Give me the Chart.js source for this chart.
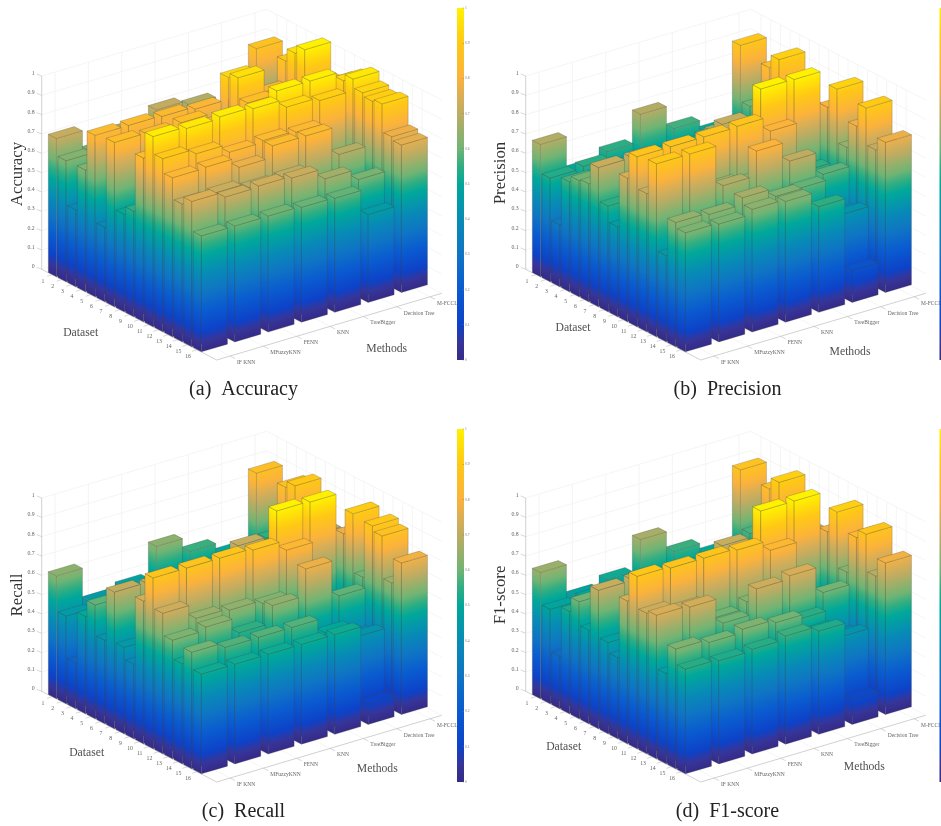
<!DOCTYPE html>
<html><head><meta charset="utf-8">
<script src="https://cdn.jsdelivr.net/npm/chart.js@4"></script>
<style>
html,body{margin:0;padding:0;background:#fff;width:941px;height:826px;overflow:hidden}
canvas{position:absolute;filter:blur(0.5px)}
</style></head><body>
<canvas id="pa" style="left:0;top:0"></canvas>
<canvas id="pb" style="left:484px;top:0"></canvas>
<canvas id="pc" style="left:0;top:422px"></canvas>
<canvas id="pd" style="left:484px;top:422px"></canvas>
<script>
const methods=['IF KNN','MFuzzyKNN','FENN','KNN','TreeBigger','Decision Tree','M-FCCL'];
const datasetIds=[1,2,3,4,5,6,7,8,9,10,11,12,13,14,15,16];
const zTicks=[0,0.1,0.2,0.3,0.4,0.5,0.6,0.7,0.8,0.9,1];

// rows: dataset 1..16, columns: methods
const accuracy=[
[.715,.60,.66,.71,.684,.62,.873],
[.626,.60,.60,.60,.60,.60,.65],
[.397,.55,.55,.60,.60,.60,.70],
[.629,.70,.65,.65,.70,.70,.887],
[.835,.835,.83,.817,.93,.80,.953],
[.385,.60,.70,.70,.954,.80,.997],
[.85,.84,.85,.80,.85,.85,.85],
[.504,.75,.80,.80,.80,.80,.85],
[.546,.75,.80,.80,.85,.85,.90],
[.847,.90,.90,.90,.99,.99,.94],
[.984,.975,.984,.975,.932,.915,.975],
[.896,.87,.827,.836,.828,.55,.93],
[.823,.827,.775,.835,.835,.688,.912],
[.713,.72,.696,.70,.60,.55,.924],
[.752,.724,.73,.72,.665,.61,.78],
[.60,.60,.60,.594,.59,.455,.763]];
const precision=[
[.684,.50,.546,.687,.563,.50,.89],
[.536,.545,.50,.50,.50,.50,.60],
[.32,.45,.45,.50,.50,.45,.55],
[.568,.55,.55,.55,.60,.55,.852],
[.60,.60,.60,.60,.65,.60,.92],
[.61,.55,.60,.60,.713,.60,.80],
[.72,.72,.65,.65,.65,.65,.70],
[.547,.65,.65,.65,.65,.70,.70],
[.465,.60,.60,.65,.60,.65,.70],
[.743,.75,.75,.75,1.0,.998,.803],
[.88,.88,.88,.884,.808,.55,.923],
[.715,.72,.65,.63,.51,.45,.647],
[.895,.895,.68,.808,.705,.585,.783],
[.446,.50,.55,.55,.59,.40,.903],
[.643,.634,.669,.625,.50,.43,.712],
[.616,.61,.635,.625,.547,.165,.777]];
const recall=[
[.635,.454,.48,.635,.558,.50,.86],
[.453,.45,.45,.45,.50,.45,.55],
[.236,.40,.40,.45,.45,.40,.55],
[.503,.50,.50,.50,.55,.50,.865],
[.588,.55,.55,.55,.60,.60,.898],
[.432,.50,.55,.55,.716,.60,.75],
[.707,.698,.60,.60,.60,.60,.70],
[.447,.60,.60,.55,.55,.60,.70],
[.386,.55,.55,.55,.55,.60,.70],
[.738,.70,.70,.70,1.0,.995,.78],
[.884,.884,.884,.875,.823,.48,.909],
[.727,.65,.641,.624,.50,.45,.607],
[.614,.631,.55,.64,.778,.588,.898],
[.518,.52,.50,.50,.45,.40,.872],
[.603,.577,.578,.578,.50,.43,.655],
[.516,.516,.516,.516,.516,.11,.784]];
const f1score=[
[.653,.48,.515,.67,.558,.50,.877],
[.488,.497,.48,.48,.50,.48,.574],
[.271,.42,.42,.45,.45,.40,.55],
[.529,.52,.52,.50,.55,.52,.856],
[.605,.58,.58,.58,.60,.60,.916],
[.484,.52,.55,.55,.716,.60,.75],
[.716,.72,.60,.60,.60,.60,.70],
[.472,.60,.60,.55,.60,.60,.70],
[.42,.55,.55,.55,.55,.60,.70],
[.738,.70,.70,.70,1.0,1.0,.79],
[.892,.884,.884,.875,.823,.50,.918],
[.727,.70,.60,.633,.50,.45,.633],
[.743,.734,.60,.726,.743,.605,.838],
[.467,.50,.50,.50,.545,.40,.881],
[.62,.603,.62,.603,.50,.43,.69],
[.542,.534,.542,.56,.534,.129,.784]];

const parula=[[0,'#352a87'],[.05,'#363599'],[.1,'#0d42c8'],[.2,'#0a5ad0'],[.3,'#0f74c4'],[.4,'#078cb5'],[.5,'#00a89a'],[.55,'#2fae82'],[.6,'#70b474'],[.7,'#bdac62'],[.75,'#dbae55'],[.8,'#fbb23c'],[.9,'#ffc815'],[1,'#fff200']];
function rgb(h){return [1,3,5].map(i=>parseInt(h.substr(i,2),16));}
function cmap(z){for(let i=1;i<parula.length;i++){if(z<=parula[i][0]){const a=parula[i-1],b=parula[i],t=(z-a[0])/(b[0]-a[0]),A=rgb(a[1]),B=rgb(b[1]);return 'rgb('+A.map((v,k)=>Math.round(v+(B[k]-v)*t)).join(',')+')';}}return parula[parula.length-1][1];}

// view of the orthographic box, in canvas pixels
const view={L:[41.7,269.3],F:[216.7,360],R:[441.7,293.3],H:193.3,halfD:.42,halfM:.39};
const FONT='"Liberation Serif",serif';

const bars3d={id:'bars3d',
 _p(chart,d,m,z){const s=chart.scales,fd=(s.x.getPixelForValue(d)-s.x.left)/s.x.width,fm=(s.m.getPixelForValue(m)-s.m.left)/s.m.width,fz=(s.y.bottom-s.y.getPixelForValue(z))/s.y.height;
  return [view.L[0]+fd*(view.F[0]-view.L[0])+fm*(view.R[0]-view.F[0]),view.L[1]+fd*(view.F[1]-view.L[1])+fm*(view.R[1]-view.F[1])-fz*view.H];},
 _line(ctx,a,b,c,w){ctx.strokeStyle=c;ctx.lineWidth=w;ctx.beginPath();ctx.moveTo(a[0],a[1]);ctx.lineTo(b[0],b[1]);ctx.stroke();},
 beforeDatasetsDraw(chart){
  const P=(d,m,z)=>this._p(chart,d,m,z),ctx=chart.ctx,s=chart.scales,grid='#eeeeee';
  const d0=s.x.min,d1=s.x.max,m0=s.m.min,m1=s.m.max;
  zTicks.forEach(z=>{this._line(ctx,P(d0,m0,z),P(d0,m1,z),grid,.6);this._line(ctx,P(d0,m1,z),P(d1,m1,z),grid,.6);});
  methods.forEach((t,i)=>{this._line(ctx,P(d0,i+1,0),P(d0,i+1,1),grid,.6);this._line(ctx,P(d0,i+1,0),P(d1,i+1,0),grid,.6);});
  datasetIds.forEach(d=>{this._line(ctx,P(d,m1,0),P(d,m1,1),grid,.6);this._line(ctx,P(d,m0,0),P(d,m1,0),grid,.6);});
  const axis='#bdbdbd';
  this._line(ctx,P(d0,m0,0),P(d0,m0,1),axis,.7);
  this._line(ctx,P(d0,m0,0),P(d1,m0,0),axis,.7);
  this._line(ctx,P(d1,m0,0),P(d1,m1,0),axis,.7);
  zTicks.forEach(z=>{const a=P(d0,m0,z);this._line(ctx,a,[a[0]-5,a[1]-2],axis,.6);});
  datasetIds.forEach(d=>{const a=P(d,m0,0);this._line(ctx,a,[a[0]-5,a[1]+1.5],axis,.6);});
  methods.forEach((t,i)=>{const a=P(d1,i+1,0);this._line(ctx,a,[a[0]+5,a[1]+2.5],axis,.6);});
 },
 beforeDatasetDraw(chart,args){
  const ctx=chart.ctx,meta=chart.getDatasetMeta(args.index),m=args.index+1,P=(d,mm,z)=>this._p(chart,d,mm,z),hd=view.halfD,hm=view.halfM;
  const edge='rgba(70,70,60,.42)';
  meta.controller.getDataset().data.forEach((_,i)=>{
   const p=meta.controller.getParsed(i),d=p.x,z=p.y;
   const b=[P(d-hd,m-hm,0),P(d+hd,m-hm,0),P(d+hd,m+hm,0)];
   const t=[P(d-hd,m-hm,z),P(d+hd,m-hm,z),P(d+hd,m+hm,z),P(d-hd,m+hm,z)];
   const face=(a,c,ta,tc)=>{
     const ex=c[0]-a[0],ey=c[1]-a[1],len=Math.hypot(ex,ey),nx=-ey/len,ny=ex/len,h=-view.H*ny,g=ctx.createLinearGradient(a[0],a[1],a[0]+nx*h,a[1]+ny*h);
     parula.forEach(st=>g.addColorStop(st[0],st[1]));
     ctx.fillStyle=g;ctx.beginPath();ctx.moveTo(a[0],a[1]);ctx.lineTo(c[0],c[1]);ctx.lineTo(tc[0],tc[1]);ctx.lineTo(ta[0],ta[1]);ctx.closePath();ctx.fill();
     ctx.strokeStyle=edge;ctx.lineWidth=.6;ctx.stroke();
   };
   face(b[0],b[1],t[0],t[1]);
   face(b[1],b[2],t[1],t[2]);
   ctx.fillStyle=cmap(z);ctx.beginPath();t.forEach((q,k)=>k?ctx.lineTo(q[0],q[1]):ctx.moveTo(q[0],q[1]));ctx.closePath();ctx.fill();
   ctx.strokeStyle=edge;ctx.lineWidth=.6;ctx.stroke();
  });
 },
 afterDatasetsDraw(chart,args,o){
  const ctx=chart.ctx,P=(d,m,z)=>this._p(chart,d,m,z),s=chart.scales;
  ctx.save();ctx.fillStyle='#666';ctx.textBaseline='middle';
  ctx.font='5.8px '+FONT;ctx.textAlign='right';
  zTicks.forEach(z=>{const a=P(s.x.min,s.m.min,z);ctx.fillText(String(z),a[0]-7,a[1]-2.5);});
  ctx.textAlign='center';
  datasetIds.forEach(d=>{const a=P(d,s.m.min,0);ctx.fillText(String(d),a[0]-9,a[1]+6.5);});
  ctx.font='5.5px '+FONT;ctx.textAlign='left';
  methods.forEach((t,i)=>{const a=P(s.x.max,i+1,0);ctx.fillText(t,a[0]+7,a[1]+6.5);});
  ctx.fillStyle='#505050';ctx.textAlign='center';
  ctx.font='11.7px '+FONT;
  ctx.fillText('Dataset',o.dataset[0],o.dataset[1]);
  ctx.fillText('Methods',o.methods[0],o.methods[1]);
  ctx.save();ctx.translate(o.ylabel[0],o.ylabel[1]);ctx.rotate(-Math.PI/2);ctx.font='16.8px '+FONT;ctx.fillStyle='#333';ctx.fillText(o.title,0,0);ctx.restore();
  ctx.fillStyle='#222';ctx.font='20px '+FONT;ctx.fillText(o.caption,243.5,o.capY);
  // colour bar
  const top=o.cbTop,bot=360,x=o.cbX,g=ctx.createLinearGradient(0,bot,0,top);
  parula.forEach(st=>g.addColorStop(st[0],st[1]));
  ctx.fillStyle=g;ctx.fillRect(x,top,7,bot-top);
  ctx.fillStyle='#777';ctx.font='3.6px '+FONT;ctx.textAlign='left';
  zTicks.forEach(z=>{const y=bot-z*(bot-top);ctx.fillRect(x+5.5,y-.2,1.5,.4);ctx.fillText(String(z),x+8,y);});
  ctx.restore();
 }};

function makePanel(id,table,opts){
 const el=document.getElementById(id);
 el.width=484;el.height=413;el.style.width='484px';el.style.height='413px';
 const datasets=methods.map((name,mi)=>({label:name,data:datasetIds.map((d,di)=>({x:d,y:table[di][mi]})),pointRadius:0,showLine:false}));
 new Chart(el,{type:'scatter',data:{datasets},plugins:[bars3d],options:{
  responsive:false,animation:false,events:[],layout:{padding:0},
  plugins:{legend:{display:false},tooltip:{enabled:false},bars3d:opts},
  scales:{
   x:{type:'linear',display:false,min:-0.07,max:18.03},
   m:{type:'linear',axis:'x',display:false,min:0.6,max:7.35},
   y:{type:'linear',display:false,min:0,max:1}
  }}});
}
makePanel('pa',accuracy,{title:'Accuracy',caption:'(a)  Accuracy',capY:390,ylabel:[17.7,174],dataset:[80.7,333],methods:[386.7,349.3],cbX:457,cbTop:8});
makePanel('pb',precision,{title:'Precision',caption:'(b)  Precision',capY:390,ylabel:[17,173],dataset:[89,328.3],methods:[366,351.7],cbX:455.5,cbTop:8});
makePanel('pc',recall,{title:'Recall',caption:'(c)  Recall',capY:389.7,ylabel:[17.5,173],dataset:[86.7,331.3],methods:[377.3,347],cbX:457,cbTop:7});
makePanel('pd',f1score,{title:'F1-score',caption:'(d)  F1-score',capY:389.7,ylabel:[17,173],dataset:[79.7,325.3],methods:[380.3,345],cbX:455.5,cbTop:7});
</script></body></html>
